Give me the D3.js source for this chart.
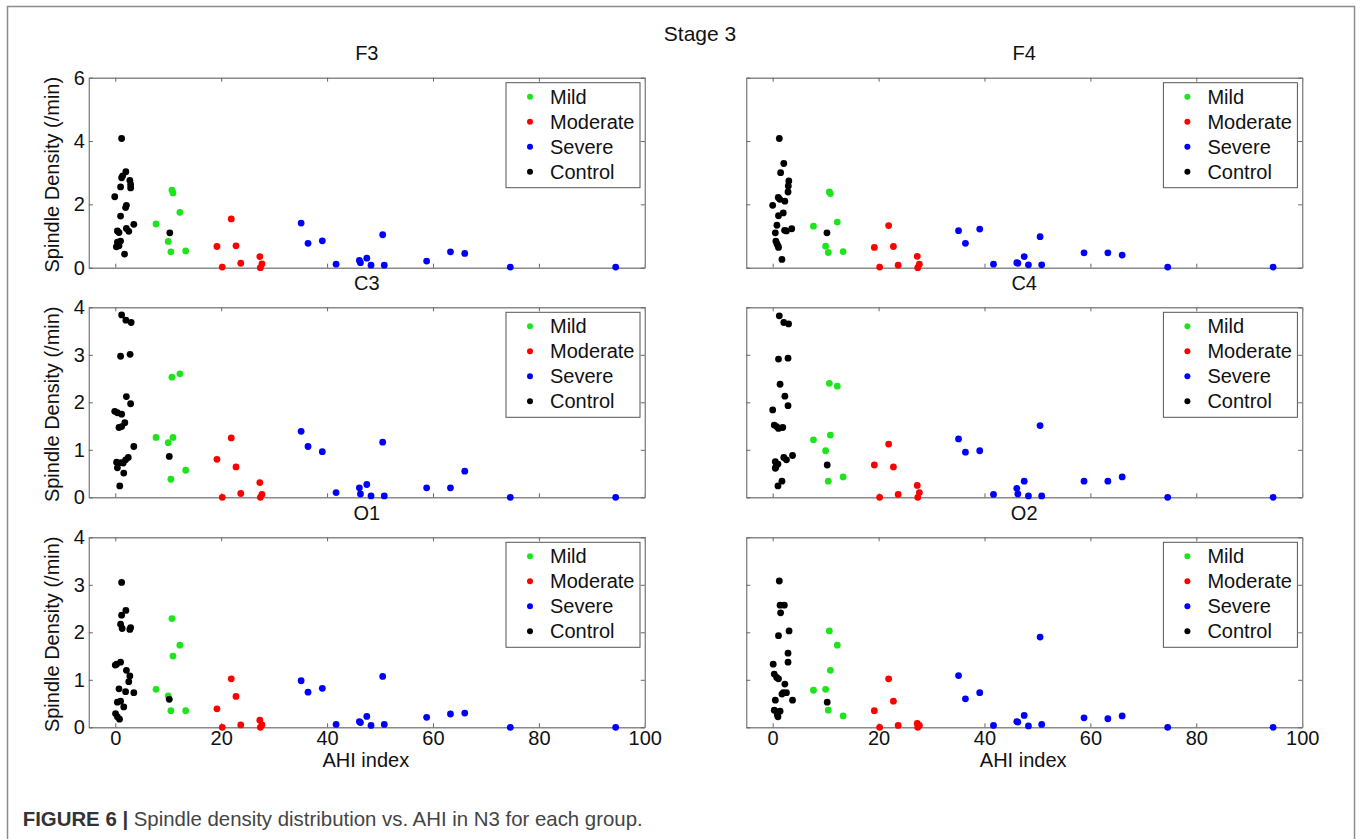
<!DOCTYPE html>
<html><head><meta charset="utf-8">
<script src="https://cdn.jsdelivr.net/npm/d3@7"></script>
<style>body{margin:0;background:#fff}svg{display:block}text{font-family:"Liberation Sans",Arial,Helvetica,sans-serif}</style>
</head><body><svg id="c" width="1363" height="839"></svg>
<script>
const panelNames = ["F3","F4","C3","C4","O1","O2"];
const groupNames = ["Mild","Moderate","Severe","Control"];
const xTicks = [0,20,40,60,80,100];
const yTicksF = [0,2,4,6];
const yTicksCO = [0,1,2,3,4];

const mildAHI = [7.7, 10.0, 10.5, 10.7, 10.9, 12.2, 13.3];
const moderateAHI = [19.2, 20.2, 21.9, 22.8, 23.7, 27.3, 27.7, 27.4];
const severeAHI = [35.1, 36.4, 39.1, 41.7, 46.1, 46.3, 47.5, 48.3, 50.5, 50.8, 58.8, 63.3, 66.0, 74.6, 94.5];

const mildF3 = [1.38, 0.83, 0.50, 2.45, 2.36, 1.75, 0.53];
const mildF4 = [1.31, 0.68, 0.48, 2.39, 2.34, 1.44, 0.51];
const mildC3 = [1.26, 1.15, 0.38, 2.53, 1.26, 2.60, 0.57];
const mildC4 = [1.21, 0.98, 0.34, 2.40, 1.31, 2.34, 0.43];
const mildO1 = [0.80, 0.66, 0.35, 2.29, 1.50, 1.73, 0.35];
const mildO2 = [0.78, 0.80, 0.36, 2.03, 1.20, 1.73, 0.24];

const moderateF3 = [0.67, 0.02, 1.54, 0.69, 0.14, 0.35, 0.12, 0.00];
const moderateF4 = [0.64, 0.02, 1.33, 0.67, 0.08, 0.36, 0.11, 0.00];
const moderateC3 = [0.80, 0.00, 1.25, 0.64, 0.08, 0.31, 0.06, 0.00];
const moderateC4 = [0.68, 0.00, 1.12, 0.64, 0.06, 0.25, 0.10, 0.00];
const moderateO1 = [0.39, 0.00, 1.02, 0.65, 0.05, 0.15, 0.05, 0.00];
const moderateO2 = [0.35, 0.00, 1.02, 0.55, 0.04, 0.08, 0.04, 0.00];

const severeF3 = [1.41, 0.77, 0.85, 0.11, 0.23, 0.16, 0.30, 0.08, 1.04, 0.08, 0.21, 0.50, 0.45, 0.02, 0.02];
const severeF4 = [1.17, 0.77, 1.22, 0.11, 0.16, 0.14, 0.35, 0.09, 0.98, 0.09, 0.47, 0.47, 0.40, 0.02, 0.02];
const severeC3 = [1.39, 1.07, 0.96, 0.10, 0.20, 0.07, 0.27, 0.03, 1.16, 0.03, 0.20, 0.20, 0.55, 0.00, 0.00];
const severeC4 = [1.23, 0.95, 0.98, 0.06, 0.19, 0.07, 0.34, 0.03, 1.51, 0.03, 0.34, 0.34, 0.43, 0.00, 0.00];
const severeO1 = [0.98, 0.74, 0.82, 0.06, 0.12, 0.10, 0.23, 0.04, 1.07, 0.06, 0.21, 0.28, 0.30, 0.00, 0.00];
const severeO2 = [1.09, 0.60, 0.73, 0.04, 0.12, 0.11, 0.25, 0.03, 1.90, 0.06, 0.20, 0.18, 0.24, 0.00, 0.00];

const controlAHIF3 = [1.2, 2.0, 1.4, 1.2, 2.75, 2.9, 2.9, 1.0, -0.1, 2.1, 1.95, 1.0, 3.5, 2.1, 2.55, 0.4, 0.7, 0.4, 1.0, 0.2, 0.7, 1.75, 10.3];
const controlF3 = [4.08, 3.03, 2.90, 2.84, 2.76, 2.63, 2.52, 2.55, 2.24, 1.97, 1.90, 1.63, 1.37, 1.24, 1.15, 1.16, 1.11, 0.81, 0.84, 0.66, 0.69, 0.43, 1.10];
const controlAHIF4 = [1.25, 2.1, 1.5, 3.05, 2.95, 2.9, 1.05, 1.35, 2.3, 0.0, 2.0, 1.1, 0.8, 3.6, 2.25, 2.6, 0.5, 0.6, 0.8, 1.0, 1.1, 1.75, 10.25];
const controlF4 = [4.08, 3.29, 3.00, 2.74, 2.58, 2.39, 2.22, 2.16, 2.10, 1.97, 1.73, 1.64, 1.34, 1.23, 1.18, 1.16, 1.10, 0.84, 0.76, 0.69, 0.64, 0.26, 1.10];
const controlAHIC3 = [1.2, 2.0, 3.0, 1.0, 2.8, 2.1, 2.9, -0.1, 0.4, 1.2, 1.8, 0.7, 1.2, 3.5, 2.45, 1.95, 0.25, 1.1, 1.5, 0.4, 1.6, 0.85, 10.2];
const controlC3 = [3.84, 3.73, 3.68, 2.97, 3.01, 2.12, 1.97, 1.81, 1.78, 1.75, 1.57, 1.47, 1.49, 1.07, 0.84, 0.79, 0.74, 0.73, 0.72, 0.62, 0.51, 0.24, 0.86];
const controlAHIC4 = [1.25, 2.1, 3.0, 1.1, 2.9, 1.4, 2.3, 2.9, 0.0, 0.3, 0.75, 1.1, 1.9, 3.75, 2.6, 2.1, 0.5, 1.0, 0.5, 0.6, 1.75, 1.0, 10.3];
const controlC4 = [3.82, 3.68, 3.65, 2.91, 2.93, 2.38, 2.13, 1.93, 1.84, 1.52, 1.49, 1.45, 1.47, 0.88, 0.79, 0.84, 0.75, 0.70, 0.61, 0.64, 0.34, 0.24, 0.68];
const controlAHIO1 = [1.2, 2.0, 1.2, 1.0, 1.3, 2.9, 2.75, 0.25, 0.0, 1.0, 2.1, 2.75, 2.55, 0.7, 1.95, 3.5, 1.0, 0.4, 1.6, 0.05, 0.4, 0.8, 10.2];
const controlO1 = [3.05, 2.46, 2.36, 2.17, 2.08, 2.10, 2.06, 1.33, 1.31, 1.37, 1.20, 1.08, 0.96, 0.81, 0.75, 0.73, 0.55, 0.53, 0.43, 0.29, 0.22, 0.17, 0.59];
const controlAHIO2 = [1.25, 1.4, 2.2, 1.5, 3.1, 1.1, 2.9, 2.9, 0.1, 0.3, 0.75, 1.1, 2.3, 2.0, 2.6, 1.75, 0.5, 3.75, 0.3, 0.75, 1.4, 1.0, 0.9, 10.3];
const controlO2 = [3.08, 2.57, 2.57, 2.41, 2.03, 1.93, 1.56, 1.37, 1.33, 1.12, 1.05, 1.02, 0.91, 0.73, 0.73, 0.70, 0.57, 0.57, 0.36, 0.33, 0.34, 0.22, 0.26, 0.53];

const panelData = {
  F3: {Mild: mildF3, Moderate: moderateF3, Severe: severeF3, Control: controlF3, controlAHI: controlAHIF3},
  F4: {Mild: mildF4, Moderate: moderateF4, Severe: severeF4, Control: controlF4, controlAHI: controlAHIF4},
  C3: {Mild: mildC3, Moderate: moderateC3, Severe: severeC3, Control: controlC3, controlAHI: controlAHIC3},
  C4: {Mild: mildC4, Moderate: moderateC4, Severe: severeC4, Control: controlC4, controlAHI: controlAHIC4},
  O1: {Mild: mildO1, Moderate: moderateO1, Severe: severeO1, Control: controlO1, controlAHI: controlAHIO1},
  O2: {Mild: mildO2, Moderate: moderateO2, Severe: severeO2, Control: controlO2, controlAHI: controlAHIO2}
};
const groupAHI = {Mild: mildAHI, Moderate: moderateAHI, Severe: severeAHI};
const colors = {Mild: "#1de41d", Moderate: "#ff0000", Severe: "#0000ff", Control: "#000000"};

const svg = d3.select("#c");
const FONT = 20;
svg.append("rect").attr("x", 7.5).attr("y", 6.5).attr("width", 1347).attr("height", 900)
  .attr("fill", "none").attr("stroke", "#8c8c8c").attr("stroke-width", 1.5);
svg.append("text").attr("x", 700).attr("y", 41).attr("text-anchor", "middle")
  .attr("font-size", 21).attr("fill", "#111").text("Stage 3");

const colX = [[88.8, 644.8], [746.2, 1302.2]];
const rowY = [[77.7, 267.7], [307.3, 497.3], [537.3, 727.3]];
const yMaxByRow = [6, 4, 4];
const yTicksByRow = [yTicksF, yTicksCO, yTicksCO];

function styleAxis(g) {
  g.select(".domain").attr("stroke", "#8a8a8a").attr("stroke-width", 1.4);
  g.selectAll(".tick line").attr("stroke", "#666").attr("stroke-width", 1);
  g.selectAll(".tick text").attr("font-size", FONT).attr("fill", "#111")
    .attr("font-family", '"Liberation Sans",Arial,sans-serif');
}

panelNames.forEach((name, i) => {
  const row = Math.floor(i / 2), col = i % 2;
  const [x0, x1] = colX[col];
  const [top, bottom] = rowY[row];
  const x = d3.scaleLinear().domain([-5, 100]).range([x0, x1]);
  const y = d3.scaleLinear().domain([0, yMaxByRow[row]]).range([bottom, top]);
  const g = svg.append("g");

  const bottomAxis = d3.axisBottom(x).tickValues(xTicks).tickSizeInner(-4).tickSizeOuter(0).tickPadding(4)
    .tickFormat(row === 2 ? d3.format("d") : () => "");
  g.append("g").attr("transform", `translate(0,${bottom})`).call(bottomAxis).call(styleAxis);
  const topAxis = d3.axisTop(x).tickValues(xTicks).tickSizeInner(-4).tickSizeOuter(0).tickFormat(() => "");
  g.append("g").attr("transform", `translate(0,${top})`).call(topAxis).call(styleAxis);
  const leftAxis = d3.axisLeft(y).tickValues(yTicksByRow[row]).tickSizeInner(-4).tickSizeOuter(0).tickPadding(4)
    .tickFormat(col === 0 ? d3.format("d") : () => "");
  g.append("g").attr("transform", `translate(${x0},0)`).call(leftAxis).call(styleAxis);
  const rightAxis = d3.axisRight(y).tickValues(yTicksByRow[row]).tickSizeInner(-4).tickSizeOuter(0).tickFormat(() => "");
  g.append("g").attr("transform", `translate(${x1},0)`).call(rightAxis).call(styleAxis);

  g.append("text").attr("x", (x0 + x1) / 2).attr("y", top - 17.7).attr("text-anchor", "middle")
    .attr("font-size", FONT).attr("fill", "#111").text(name);

  if (col === 0) {
    g.append("text").attr("transform", `translate(58.5,${(top + bottom) / 2 + 2}) rotate(-90)`)
      .attr("text-anchor", "middle").attr("font-size", FONT).attr("fill", "#111").text("Spindle Density (/min)");
  }
  if (row === 2) {
    g.append("text").attr("x", (x0 + x1) / 2 - 1).attr("y", bottom + 39.7).attr("text-anchor", "middle")
      .attr("font-size", FONT).attr("fill", "#111").text("AHI index");
  }

  const pd = panelData[name];
  groupNames.forEach(grp => {
    const xs = grp === "Control" ? pd.controlAHI : groupAHI[grp];
    const pts = pd[grp].map((v, k) => ({a: xs[k], v}));
    g.append("g").selectAll("circle").data(pts).join("circle")
      .attr("cx", d => x(d.a)).attr("cy", d => y(d.v)).attr("r", 3.4)
      .attr("fill", colors[grp]);
  });

  const lg = g.append("g").attr("transform", `translate(${x0 + 417.2},${top + 5})`);
  lg.append("rect").attr("width", 134).attr("height", 105).attr("fill", "#fff")
    .attr("stroke", "#555").attr("stroke-width", 1);
  groupNames.forEach((grp, k) => {
    lg.append("circle").attr("cx", 24).attr("cy", 14 + 25 * k).attr("r", 3).attr("fill", colors[grp]);
    lg.append("text").attr("x", 44).attr("y", 14 + 25 * k).attr("dy", "0.35em")
      .attr("font-size", FONT).attr("fill", "#111").text(grp);
  });
});

const cap = svg.append("text").attr("x", 22.7).attr("y", 826).attr("font-size", 20.4);
cap.append("tspan").attr("font-weight", "bold").attr("fill", "#333").text("FIGURE 6 |");
cap.append("tspan").attr("fill", "#444").text(" Spindle density distribution vs. AHI in N3 for each group.");
</script></body></html>
